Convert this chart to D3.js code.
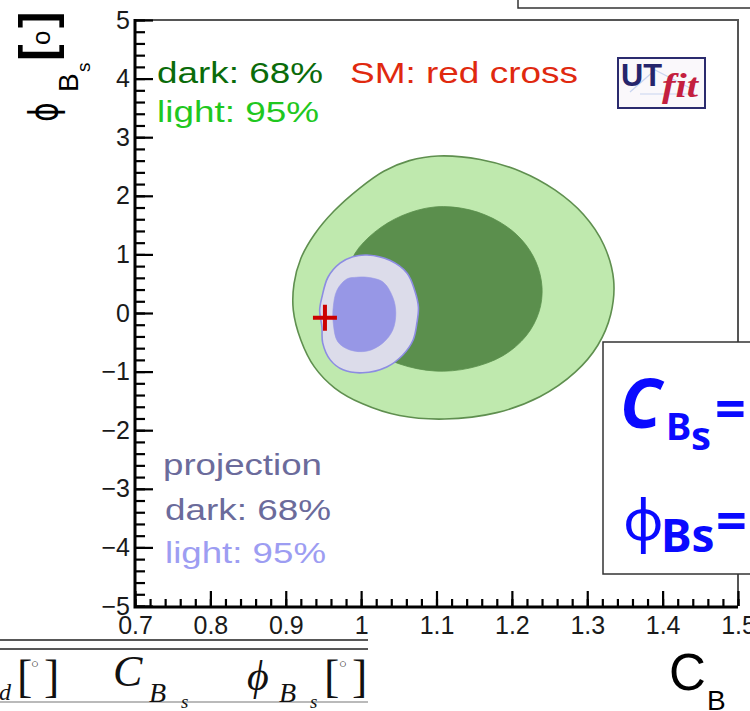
<!DOCTYPE html>
<html><head><meta charset="utf-8">
<script src="https://cdn.jsdelivr.net/npm/d3@7"></script>
<style>html,body{margin:0;padding:0;background:#fff;}svg{display:block;}</style>
</head><body>
<svg id="chart" width="750" height="711"></svg>
<script>
// Axis ranges and tick values
const xDomain = [0.7, 1.5];
const yDomain = [-5, 5];
const xMajor = [0.7, 0.8, 0.9, 1.0, 1.1, 1.2, 1.3, 1.4, 1.5];
const yMajor = [-5, -4, -3, -2, -1, 0, 1, 2, 3, 4, 5];

// Full fit, 95% probability contour [C_Bs, phi_Bs]
const full95 = [[1.102,2.68],[1.158,2.62],[1.211,2.42],[1.257,2.10],[1.295,1.68],[1.322,1.16],
  [1.335,0.56],[1.331,-0.03],[1.314,-0.55],[1.284,-1.01],[1.237,-1.43],[1.180,-1.70],
  [1.111,-1.81],[1.051,-1.75],[1.002,-1.55],[0.965,-1.28],[0.938,-0.92],[0.920,-0.46],
  [0.910,0.05],[0.911,0.50],[0.920,0.93],[0.938,1.34],[0.964,1.74],[0.997,2.12],
  [1.030,2.42],[1.064,2.60]];
// Full fit, 68% probability contour
const full68 = [[1.098,1.81],[1.144,1.76],[1.184,1.55],[1.213,1.25],[1.232,0.87],[1.240,0.44],
  [1.236,0.02],[1.219,-0.39],[1.188,-0.73],[1.144,-0.94],[1.098,-0.99],[1.051,-0.87],
  [1.014,-0.63],[0.988,-0.29],[0.977,0.14],[0.980,0.60],[0.992,1.02],[1.018,1.38],[1.054,1.66]];
// Projection, 95% contour
const proj95 = [[1.008,0.99],[1.038,0.90],[1.061,0.68],[1.071,0.39],[1.076,0.10],[1.074,-0.17],
  [1.069,-0.46],[1.055,-0.72],[1.034,-0.92],[1.002,-1.02],[0.976,-0.97],[0.959,-0.80],
  [0.949,-0.51],[0.948,-0.24],[0.945,0.05],[0.948,0.27],[0.956,0.61],[0.972,0.85],[0.989,0.96]];
// Projection, 68% contour
const proj68 = [[1.008,0.61],[1.029,0.53],[1.042,0.27],[1.046,0.00],[1.042,-0.29],[1.029,-0.51],
  [1.008,-0.65],[0.985,-0.63],[0.969,-0.49],[0.963,-0.17],[0.963,0.10],[0.968,0.39],
  [0.981,0.58],[0.994,0.61]];
// Standard Model point
const smPoint = [0.952, -0.08];

const svg = d3.select("#chart");
const x = d3.scaleLinear(xDomain, [135, 738]);
const y = d3.scaleLinear(yDomain, [606, 20]);

const contour = d3.line()
  .x(d => x(d[0])).y(d => y(d[1]))
  .curve(d3.curveCatmullRomClosed.alpha(0.5));

const plot = svg.append("g");
plot.append("path").attr("d", contour(full95))
  .attr("fill", "#bfe9ae").attr("stroke", "#5f8f4f").attr("stroke-width", 1.6);
plot.append("path").attr("d", contour(full68))
  .attr("fill", "#5b8f4d").attr("stroke", "#5b8f4d").attr("stroke-width", 0.8);
plot.append("path").attr("d", contour(proj95))
  .attr("fill", "#dcdcea").attr("stroke", "#8c8ce2").attr("stroke-width", 1.6);
plot.append("path").attr("d", contour(proj68))
  .attr("fill", "#9797e6").attr("stroke", "#9797e6").attr("stroke-width", 0.6);

// SM red cross
const cx = x(smPoint[0]), cy = y(smPoint[1]);
plot.append("path")
  .attr("d", `M${cx-12},${cy}H${cx+12}M${cx},${cy-13}V${cy+13}`)
  .attr("stroke", "#cc0000").attr("stroke-width", 4).attr("fill", "none");

// Frame (top and right)
svg.append("path").attr("d", `M135,20H${x(1.5)}V606`)
  .attr("fill", "none").attr("stroke", "#555").attr("stroke-width", 2);

const fmt = d => d < 0 ? "\u2212" + Math.abs(d) : String(+d.toFixed(1));

// Y axis, ticks drawn inward
const yAxisG = svg.append("g").attr("transform", "translate(135,0)");
yAxisG.call(d3.axisLeft(y).tickValues(y.ticks(50)).tickSize(-10).tickFormat(""));
yAxisG.append("g").call(d3.axisLeft(y).tickValues(yMajor).tickSize(-18).tickPadding(5).tickFormat(fmt));
// X axis
const xAxisG = svg.append("g").attr("transform", "translate(0,606)");
xAxisG.call(d3.axisBottom(x).tickValues(x.ticks(40)).tickSize(-7).tickFormat(""));
xAxisG.append("g").call(d3.axisBottom(x).tickValues(xMajor).tickSize(-15).tickPadding(10).tickFormat(fmt));

svg.selectAll(".domain").remove();
svg.selectAll(".tick line").attr("stroke", "#000").attr("stroke-width", 2.2);
svg.selectAll(".tick text").attr("font-family", "Liberation Sans, Arial, sans-serif")
  .attr("font-size", 25).attr("fill", "#1a1a1a");
// Axis lines
svg.append("path").attr("d", `M135,19V607H${x(1.5)}`)
  .attr("fill", "none").attr("stroke", "#000").attr("stroke-width", 3);

// Y axis title: phi_{B_s} [°]
const yt = svg.append("g").attr("transform", "translate(57,121) rotate(-90)")
  .attr("font-family", "Liberation Sans, Arial, sans-serif").attr("fill", "#000");
yt.append("text").attr("x", -1).attr("y", 0).attr("font-size", 30)
  .attr("font-family", "DejaVu Sans, sans-serif")
  .attr("transform", "scale(1,1.3)").text("\u03d5");
yt.append("text").attr("x", 29).attr("y", 21).attr("font-size", 28).text("B");
yt.append("text").attr("x", 49).attr("y", 33).attr("font-size", 19).text("s");
yt.append("text").attr("x", 60).attr("y", -3).attr("font-size", 50).attr("font-weight", "bold").text("[");
yt.append("text").attr("x", 76).attr("y", -7).attr("font-size", 26).text("o");
yt.append("text").attr("x", 93).attr("y", -3).attr("font-size", 50).attr("font-weight", "bold").text("]");

// X axis title: C_{B_s}
const xt = svg.append("g").attr("font-family", "Liberation Sans, Arial, sans-serif").attr("fill", "#000");
xt.append("text").attr("x", 669).attr("y", 690).attr("font-size", 51).text("C");
xt.append("text").attr("x", 707).attr("y", 710).attr("font-size", 28).text("B");
xt.append("text").attr("x", 727).attr("y", 722).attr("font-size", 19).text("s");

// Legend notes
const notes = [
  {t: "dark: 68%", x: 157, y: 83, w: 166, c: "#0a6b0a"},
  {t: "light: 95%", x: 157, y: 122, w: 162, c: "#1fc81f"},
  {t: "SM: red cross", x: 350, y: 83, w: 228, c: "#e0290f"},
  {t: "projection", x: 163, y: 475, w: 159, c: "#6b6b9b"},
  {t: "dark: 68%", x: 165, y: 520, w: 166, c: "#6b6b9b"},
  {t: "light: 95%", x: 165, y: 563, w: 161, c: "#9d9df2"}
];
svg.append("g").selectAll("text").data(notes).join("text")
  .attr("x", d => d.x).attr("y", d => d.y)
  .attr("textLength", d => d.w).attr("lengthAdjust", "spacingAndGlyphs")
  .attr("font-family", "Liberation Sans, Arial, sans-serif").attr("font-size", 29)
  .attr("fill", d => d.c).text(d => d.t);

// UTfit logo
const logo = svg.append("g");
logo.append("rect").attr("x", 618).attr("y", 58).attr("width", 87).attr("height", 50)
  .attr("fill", "#faf8fb").attr("stroke", "#2b2b6e").attr("stroke-width", 2);
logo.append("path").attr("d", "M630,92L655,70L690,88M640,94H695")
  .attr("fill", "none").attr("stroke", "#c8d4f0").attr("stroke-width", 1.2);
logo.append("text").attr("x", 621).attr("y", 86).attr("font-family", "Liberation Sans, Arial, sans-serif")
  .attr("font-weight", "bold").attr("font-size", 31).attr("fill", "#25256c")
  .attr("textLength", 41).attr("lengthAdjust", "spacingAndGlyphs").text("UT");
logo.append("text").attr("x", 662).attr("y", 97).attr("font-family", "Liberation Serif, serif")
  .attr("font-style", "italic").attr("font-weight", "bold").attr("font-size", 34).attr("fill", "#c41f3f")
  .attr("textLength", 36).attr("lengthAdjust", "spacingAndGlyphs").text("fit");

// Results box on the right
const box = svg.append("g");
box.append("rect").attr("x", 603).attr("y", 342).attr("width", 170).attr("height", 232)
  .attr("fill", "#fff").attr("stroke", "#333").attr("stroke-width", 1.5);
const bf = "Noto Sans, DejaVu Sans, sans-serif";
box.append("text").attr("x", 620).attr("y", 428).attr("font-family", bf).attr("font-weight", "bold")
  .attr("font-style", "italic").attr("font-size", 68).attr("fill", "#0a0aff").text("C");
box.append("text").attr("x", 666).attr("y", 440).attr("font-family", bf).attr("font-weight", "bold")
  .attr("font-size", 38).attr("fill", "#0a0aff").text("B");
box.append("text").attr("x", 691).attr("y", 450).attr("font-family", bf).attr("font-weight", "bold")
  .attr("font-size", 40).attr("fill", "#0a0aff").text("s");
box.append("text").attr("x", 715).attr("y", 428).attr("font-family", bf).attr("font-weight", "bold")
  .attr("font-size", 54).attr("fill", "#0a0aff").text("=");
box.append("text").attr("x", 623).attr("y", 540).attr("font-family", bf)
  .attr("font-size", 56).attr("fill", "#0a0aff").text("\u03c6");
box.append("text").attr("x", 661).attr("y", 552).attr("font-family", bf).attr("font-weight", "bold")
  .attr("font-size", 46).attr("fill", "#0a0aff").text("Bs");
box.append("text").attr("x", 716).attr("y", 540).attr("font-family", bf).attr("font-weight", "bold")
  .attr("font-size", 54).attr("fill", "#0a0aff").text("=");

// Box edge at top of the page
svg.append("path").attr("d", "M518,-2V8H752").attr("fill", "none").attr("stroke", "#333").attr("stroke-width", 1.5);

// Table header at bottom left
const tb = svg.append("g");
tb.append("path").attr("d", "M0,640H368M0,649H368").attr("stroke", "#222").attr("stroke-width", 1.5);
tb.append("path").attr("d", "M0,702H368").attr("stroke", "#777").attr("stroke-width", 1.2);
const sf = "Liberation Serif, DejaVu Serif, serif";
const th = [
  {t: "d", x: -1, y: 700, s: 24, i: true},
  {t: "[", x: 17, y: 692, s: 46, i: false},
  {t: "\u25cb", x: 31, y: 668, s: 13, i: false},
  {t: "]", x: 44, y: 692, s: 46, i: false},
  {t: "C", x: 113, y: 686, s: 44, i: true},
  {t: "B", x: 149, y: 702, s: 28, i: true},
  {t: "s", x: 181, y: 708, s: 19, i: true},
  {t: "\u03d5", x: 247, y: 690, s: 42, i: true},
  {t: "B", x: 279, y: 702, s: 28, i: true},
  {t: "s", x: 310, y: 708, s: 19, i: true},
  {t: "[", x: 324, y: 692, s: 46, i: false},
  {t: "\u25cb", x: 339, y: 668, s: 13, i: false},
  {t: "]", x: 352, y: 692, s: 46, i: false}
];
tb.selectAll("text").data(th).join("text")
  .attr("x", d => d.x).attr("y", d => d.y).attr("font-family", sf)
  .attr("font-size", d => d.s).attr("font-style", d => d.i ? "italic" : "normal")
  .attr("fill", "#111").text(d => d.t);
</script>
</body></html>
